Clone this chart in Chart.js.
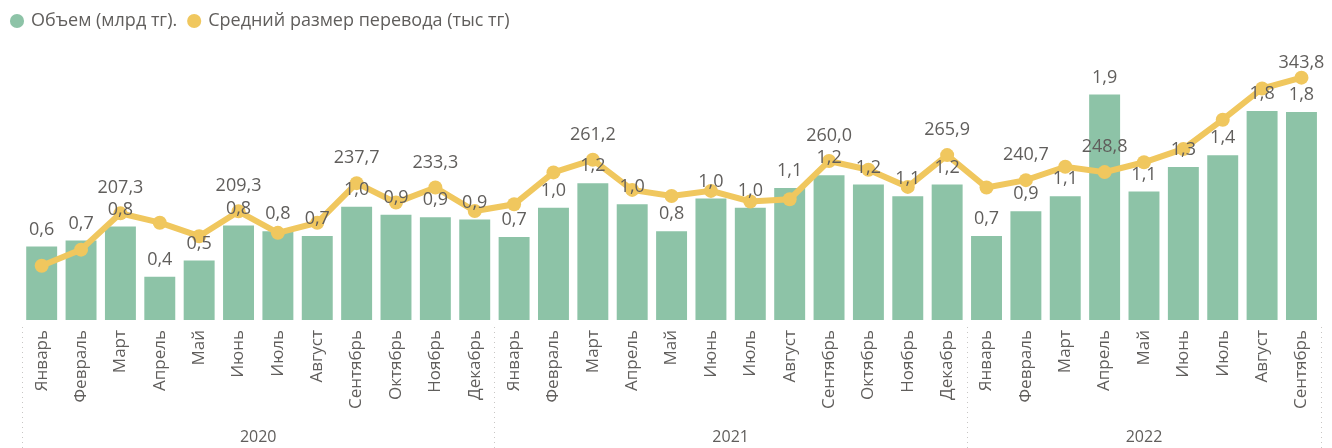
<!DOCTYPE html>
<html>
<head>
<meta charset="utf-8">
<script src="https://cdn.jsdelivr.net/npm/chart.js@4"></script>
<style>
  html, body { margin: 0; padding: 0; background: #fff; }
  #chart { display: block; }
</style>
</head>
<body>
<canvas id="chart" width="1332" height="448"></canvas>
<script>
// months for each bar, grouped by year below the axis
const months = [
    'Январь', 'Февраль', 'Март', 'Апрель', 'Май', 'Июнь', 'Июль', 'Август', 'Сентябрь', 'Октябрь', 'Ноябрь', 'Декабрь',
    'Январь', 'Февраль', 'Март', 'Апрель', 'Май', 'Июнь', 'Июль', 'Август', 'Сентябрь', 'Октябрь', 'Ноябрь', 'Декабрь',
    'Январь', 'Февраль', 'Март', 'Апрель', 'Май', 'Июнь', 'Июль', 'Август', 'Сентябрь'
];
const years = ['2020', '2021', '2022'];
const monthsPerYear = [12, 12, 9];

// Объем (млрд тг)
const volume = [
    0.63, 0.68, 0.80, 0.37, 0.51, 0.81, 0.76, 0.72, 0.97, 0.90, 0.88, 0.86,
    0.71, 0.96, 1.17, 0.99, 0.76, 1.04, 0.96, 1.13, 1.24, 1.16, 1.06, 1.16,
    0.72, 0.93, 1.06, 1.93, 1.10, 1.31, 1.41, 1.79, 1.78
];
// Средний размер перевода (тыс тг)
const avgTransfer = [
    154.6, 170.8, 207.3, 197.9, 184.3, 209.3, 187.7, 197.9, 237.7, 218.1, 233.3, 209.6,
    216.4, 248.5, 261.2, 230.9, 224.8, 229.9, 219.2, 221.5, 260.0, 251.2, 233.9, 265.9,
    233.3, 240.7, 254.2, 248.8, 258.7, 272.1, 301.5, 332.9, 343.8
];
// points of the line that carry a value label
const labelledPoints = [2, 5, 8, 10, 14, 20, 23, 25, 27, 32];

const textGrey = '#605E5C';
Chart.defaults.font.family = "'Open Sans', sans-serif";

function fmt(v) {
    return v.toFixed(1).replace('.', ',');
}

// value labels above bars and selected points
const valueLabels = {
    id: 'valueLabels',
    afterDatasetsDraw(chart) {
        const ctx = chart.ctx;
        ctx.save();
        ctx.font = "18px 'Open Sans', sans-serif";
        ctx.fillStyle = textGrey;
        ctx.textAlign = 'center';
        ctx.textBaseline = 'middle';
        chart.getDatasetMeta(0).data.forEach((el, i) => {
            ctx.fillText(fmt(volume[i]), el.x, el.y - 17);
        });
        const pts = chart.getDatasetMeta(1).data;
        labelledPoints.forEach(i => {
            const el = pts[i];
            const y = Math.max(el.y - 25, chart.chartArea.top + 23);
            ctx.fillText(fmt(avgTransfer[i]), el.x, y);
        });
        ctx.restore();
    }
};

// year captions and dotted separators under the month labels
const yearGroups = {
    id: 'yearGroups',
    afterDraw(chart) {
        const ctx = chart.ctx;
        const x = chart.scales.x;
        const half = x.width / months.length / 2;
        ctx.save();
        ctx.strokeStyle = '#C8C6C4';
        ctx.lineWidth = 1;
        ctx.setLineDash([1, 4]);
        ctx.font = "16px 'Open Sans', sans-serif";
        ctx.fillStyle = textGrey;
        ctx.textAlign = 'center';
        ctx.textBaseline = 'middle';
        let start = 0;
        years.forEach((yr, k) => {
            const end = start + monthsPerYear[k] - 1;
            const left = x.getPixelForValue(start) - half;
            const right = x.getPixelForValue(end) + half;
            [left, right].forEach(px => {
                ctx.beginPath();
                ctx.moveTo(Math.round(px) + 0.5, 327);
                ctx.lineTo(Math.round(px) + 0.5, 448);
                ctx.stroke();
            });
            ctx.fillText(yr, (left + right) / 2, 437);
            start = end + 1;
        });
        ctx.restore();
    }
};

new Chart(document.getElementById('chart'), {
    type: 'bar',
    data: {
        labels: months,
        datasets: [
            {
                type: 'bar',
                label: 'Объем (млрд тг).',
                data: volume,
                backgroundColor: '#8DC3A7',
                yAxisID: 'y',
                order: 1,
                categoryPercentage: 1,
                barPercentage: 0.786
            },
            {
                type: 'line',
                label: 'Средний размер перевода (тыс тг)',
                data: avgTransfer,
                borderColor: '#F0C75E',
                backgroundColor: '#F0C75E',
                borderWidth: 6,
                pointRadius: 7,
                pointHoverRadius: 7,
                pointBorderWidth: 0,
                pointBackgroundColor: '#F0C75E',
                tension: 0,
                clip: false,
                yAxisID: 'y1',
                order: 0
            }
        ]
    },
    options: {
        responsive: false,
        animation: false,
        devicePixelRatio: 1,
        layout: { padding: 0 },
        plugins: {
            tooltip: { enabled: false },
            legend: {
                display: true,
                position: 'top',
                align: 'start',
                labels: {
                    usePointStyle: true,
                    pointStyle: 'circle',
                    boxWidth: 10,
                    boxHeight: 10,
                    padding: 12,
                    color: textGrey,
                    font: { size: 18 },
                    generateLabels: (chart) => Chart.defaults.plugins.legend.labels.generateLabels(chart)
                        .map(l => ({ ...l, lineWidth: 0 }))
                        .sort((a, b) => a.datasetIndex - b.datasetIndex)
                }
            }
        },
        scales: {
            x: {
                grid: { display: false, drawTicks: false },
                border: { display: false },
                ticks: {
                    autoSkip: false,
                    minRotation: 90,
                    maxRotation: 90,
                    padding: 10,
                    color: textGrey,
                    font: { size: 17 }
                },
                afterFit: (s) => { s.height = 128; }
            },
            y: {
                position: 'left',
                min: 0,
                max: 2.397,
                grid: { display: false },
                border: { display: false },
                ticks: { display: false },
                afterFit: (s) => { s.width = 22; }
            },
            y1: {
                position: 'right',
                min: 100,
                max: 381.7,
                grid: { display: false },
                border: { display: false },
                ticks: { display: false },
                afterFit: (s) => { s.width = 9; }
            }
        }
    },
    plugins: [valueLabels, yearGroups]
});
</script>
</body>
</html>
